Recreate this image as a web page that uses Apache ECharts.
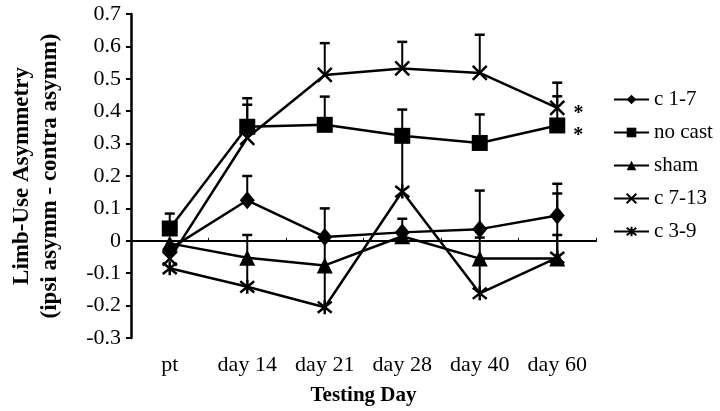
<!DOCTYPE html>
<html><head><meta charset="utf-8">
<script src="https://cdn.jsdelivr.net/npm/echarts@6/dist/echarts.min.js"></script>
<style>html,body{margin:0;padding:0;background:#fff}#c{width:720px;height:411px}</style>
</head><body><div id="c"></div>
<script>
// ---- data ----
const categories = ['pt', 'day 14', 'day 21', 'day 28', 'day 40', 'day 60'];
const seriesNames = ['c 1-7', 'no cast', 'sham', 'c 7-13', 'c 3-9'];

const c17      = [-0.025, 0.125, 0.012, 0.026, 0.036, 0.078];
const c17Err   = [null, 0.200, 0.100, null, 0.155, 0.176];
const noCast   = [0.038, 0.352, 0.358, 0.324, 0.302, 0.356];
const noCastErr= [0.084, 0.440, 0.445, 0.405, 0.390, 0.446];
const sham     = [-0.008, -0.052, -0.076, 0.014, -0.055, -0.055];
const shamErr  = [null, 0.018, 0.005, 0.068, 0.010, 0.018];
const c713     = [-0.055, 0.318, 0.512, 0.532, 0.518, 0.410];
const c713Err  = [null, 0.420, 0.610, 0.614, 0.636, 0.488];
const c39      = [-0.085, -0.142, -0.205, 0.152, -0.162, -0.052];
const c39Err   = [null, -0.060, -0.085, 0.330, -0.060, 0.146];

const noCastSig = ['', '', '', '', '', '*'];
const c713Sig   = ['', '', '', '', '', '*'];

const yMin = -0.3, yMax = 0.7, yStep = 0.1;

// ---- styling ----
const FONT = 'Liberation Serif';
const BLACK = '#000';

const xPath = 'path://M0,0L10,10M10,0L0,10';
const starPath = 'path://M1,1L9,9M9,1L1,9M5,0L5,10';

function withSig(vals, sig, offsetY) {
  return vals.map((v, i) => sig[i] ? {
    value: v,
    label: { show: true, formatter: sig[i], position: 'right', distance: 8,
             offset: [0, offsetY], fontFamily: FONT, fontSize: 20, color: BLACK, fontWeight: 'bold' }
  } : v);
}

function lineSeries(name, data, symbol, size, stroke) {
  return {
    type: 'line', name: name, data: data, xAxisIndex: 0,
    symbol: symbol, symbolSize: size, showAllSymbol: true,
    lineStyle: { color: BLACK, width: 2.5 },
    itemStyle: stroke ? { color: BLACK, borderColor: BLACK, borderWidth: 2.5 }
                      : { color: BLACK, borderWidth: 0 },
    z: 3, animation: false
  };
}

function errSeries(name, vals, errs) {
  const data = [];
  vals.forEach((v, i) => { if (errs[i] !== null) data.push([i, v, errs[i]]); });
  return {
    type: 'custom', name: name + ' err', xAxisIndex: 0, z: 2,
    encode: { x: 0, y: [1, 2] },
    data: data, animation: false,
    renderItem: function (params, api) {
      const x = api.value(0), lo = api.value(1), hi = api.value(2);
      const p1 = api.coord([x, lo]), p2 = api.coord([x, hi]);
      const w = 5;
      return { type: 'group', children: [
        { type: 'line', shape: { x1: p1[0], y1: p1[1], x2: p2[0], y2: p2[1] },
          style: { stroke: BLACK, lineWidth: 2 } },
        { type: 'line', shape: { x1: p2[0] - w, y1: p2[1], x2: p2[0] + w, y2: p2[1] },
          style: { stroke: BLACK, lineWidth: 2.5 } }
      ] };
    }
  };
}

const chart = echarts.init(document.getElementById('c'), null, { renderer: 'canvas' });
chart.setOption({
  animation: false,
  backgroundColor: '#fff',
  grid: { left: 118, right: 124, top: 14, bottom: 69 },
  legend: {
    data: seriesNames, orient: 'vertical', left: 608, top: 84,
    itemWidth: 35, itemHeight: 12, itemGap: 12, itemTextGap: 10,
    textStyle: { fontFamily: FONT, fontSize: 21, color: BLACK }
  },
  xAxis: [
    { type: 'category', data: categories, position: 'bottom', boundaryGap: true,
      axisLine: { show: false, onZero: false }, axisTick: { show: false },
      axisLabel: { fontFamily: FONT, fontSize: 22, color: BLACK, margin: 16 },
      name: 'Testing Day', nameLocation: 'middle', nameGap: 47,
      nameTextStyle: { fontFamily: FONT, fontSize: 21, fontWeight: 'bold', color: BLACK } },
    { type: 'category', data: categories, position: 'top', boundaryGap: true,
      axisLine: { show: true, onZero: true, onZeroAxisIndex: 0, lineStyle: { color: BLACK, width: 2 } },
      axisTick: { show: true, inside: false, length: 3, lineStyle: { color: BLACK, width: 1 } },
      axisLabel: { show: false } }
  ],
  yAxis: {
    type: 'value', min: yMin, max: yMax, interval: yStep,
    axisLine: { show: true, lineStyle: { color: BLACK, width: 2.5 } },
    axisTick: { show: true, length: 5, lineStyle: { color: BLACK, width: 2 } },
    splitLine: { show: false },
    axisLabel: { fontFamily: FONT, fontSize: 22, color: BLACK, margin: 10,
      formatter: v => String(Math.round(v * 10) / 10) },
    name: 'Limb-Use Asymmetry\n(ipsi asymm - contra asymm)',
    nameLocation: 'middle', nameGap: 67,
    nameTextStyle: { fontFamily: FONT, fontSize: 23, fontWeight: 'bold', color: BLACK, lineHeight: 28 }
  },
  series: [
    errSeries('c 1-7', c17, c17Err),
    errSeries('no cast', noCast, noCastErr),
    errSeries('sham', sham, shamErr),
    errSeries('c 7-13', c713, c713Err),
    errSeries('c 3-9', c39, c39Err),
    lineSeries('c 1-7', c17, 'diamond', [15, 18], false),
    lineSeries('no cast', withSig(noCast, noCastSig, 10), 'rect', 16, false),
    lineSeries('sham', sham, 'triangle', 16, false),
    lineSeries('c 7-13', withSig(c713, c713Sig, 6), xPath, 14, true),
    lineSeries('c 3-9', c39, starPath, 14, true)
  ]
});
</script>
</body></html>
